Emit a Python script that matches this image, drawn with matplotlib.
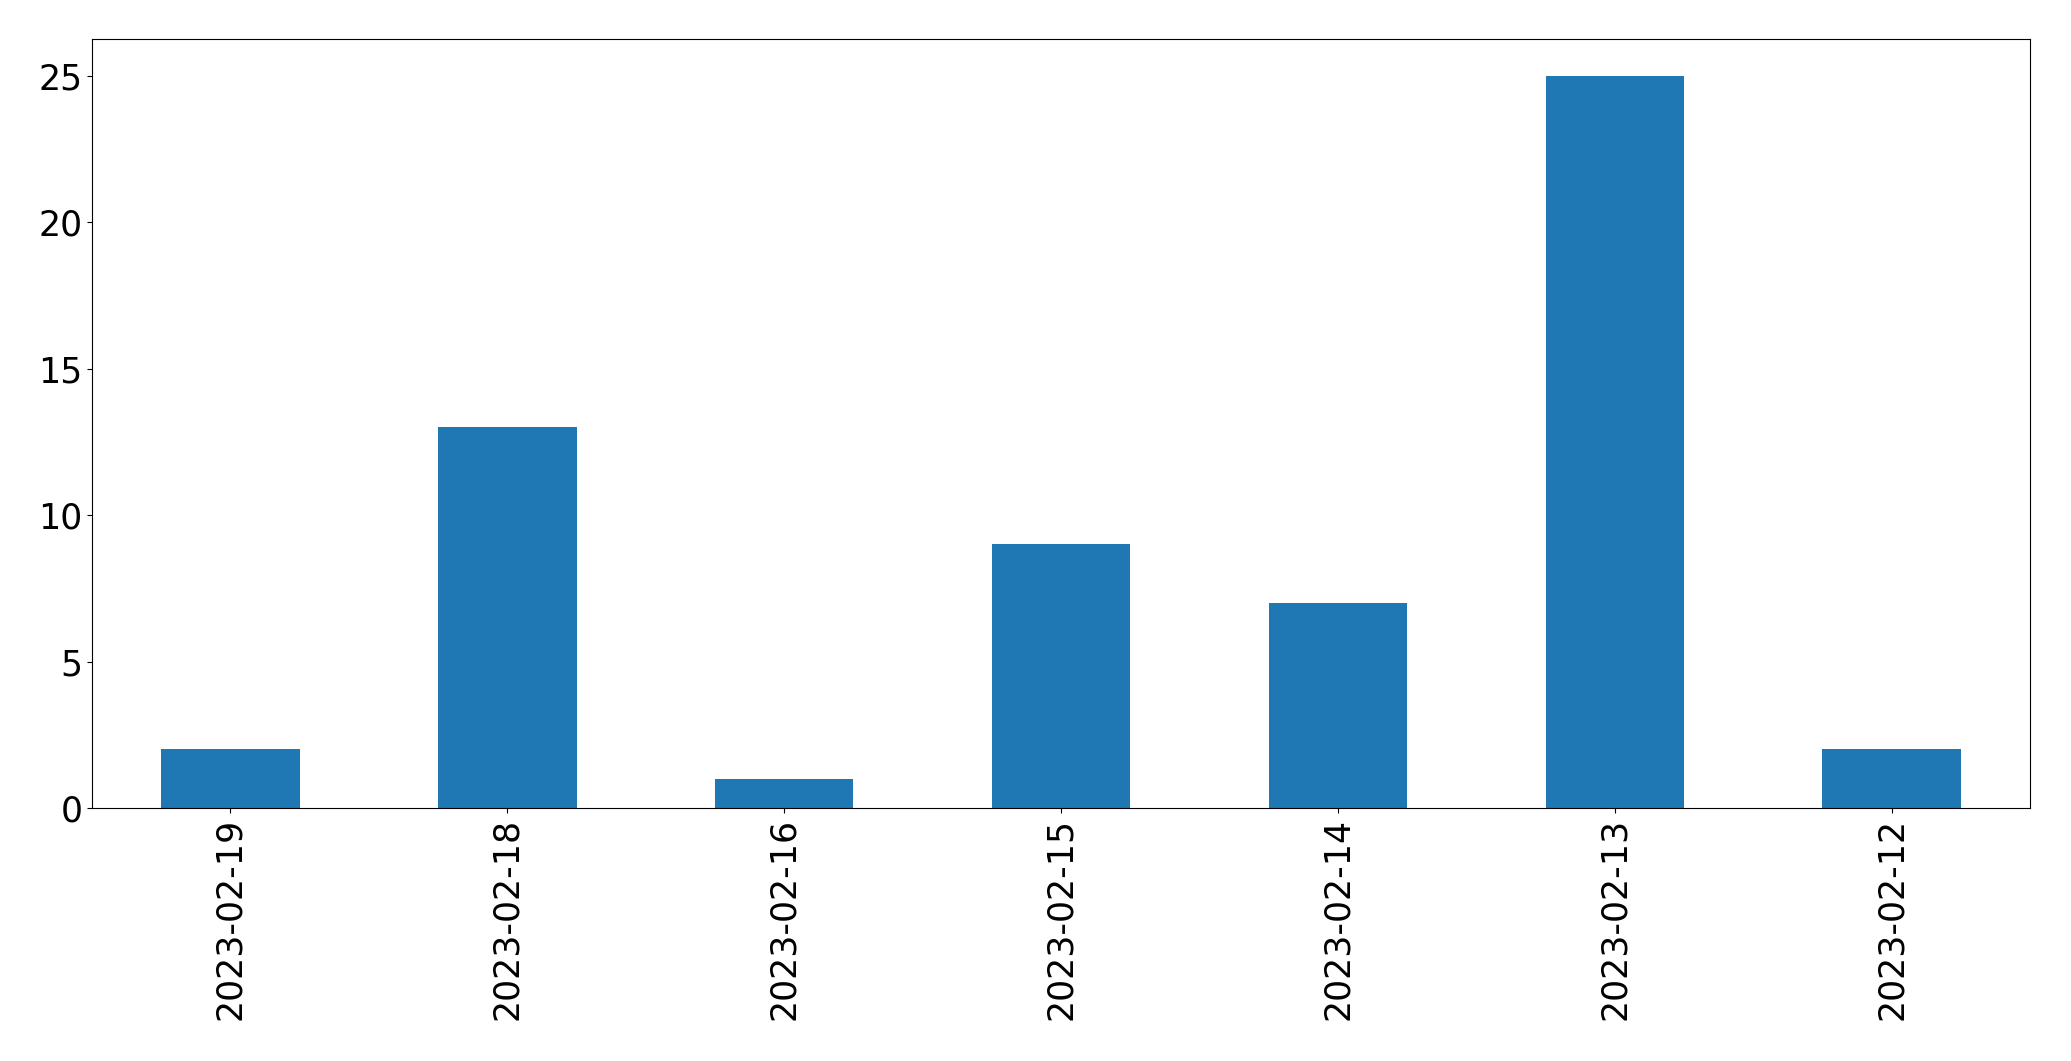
import pandas as pd
import matplotlib
matplotlib.use("Agg")
import matplotlib.pyplot as plt

dates = ["2023-02-19", "2023-02-18", "2023-02-16", "2023-02-15",
         "2023-02-14", "2023-02-13", "2023-02-12"]
counts = [2, 13, 1, 9, 7, 25, 2]

s = pd.Series(counts, index=dates)

fig = plt.figure(figsize=(20.71, 10.61), dpi=100)
ax = fig.add_axes([92 / 2071, 1 - 808 / 1061, (2030 - 92) / 2071, (808 - 39) / 1061])
s.plot(kind="bar", ax=ax, color="#1f77b4")
ax.tick_params(labelsize=25)

fig.savefig("out.png", dpi=100)
